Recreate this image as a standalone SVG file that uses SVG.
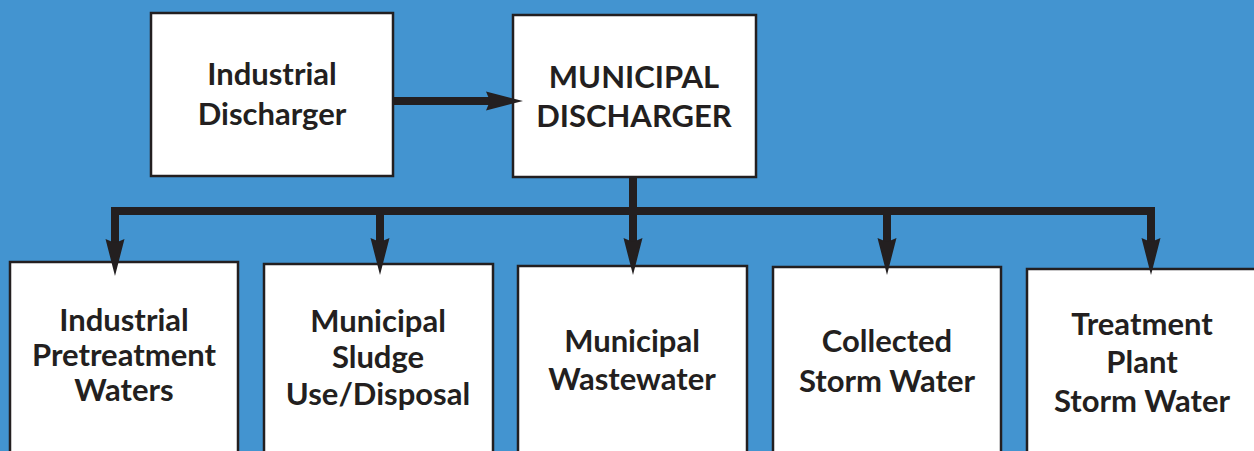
<svg xmlns="http://www.w3.org/2000/svg" width="1254" height="451" viewBox="0 0 1254 451">
<style>
.box{fill:#ffffff;stroke:#231f20;stroke-width:2.5}
.lbl{font-family:Lato,"Open Sans",sans-serif;font-weight:bold;font-size:31px;fill:#231f20;text-anchor:middle}
.con{fill:none;stroke:#231f20;stroke-width:8;stroke-linejoin:miter}
</style>
<defs>
<marker id="ah" markerUnits="userSpaceOnUse" markerWidth="38" markerHeight="22" viewBox="0 0 38 22" refX="12" refY="11" orient="auto">
<path d="M0,1.5 L37,11 L0,20.5 L4,11 Z" fill="#231f20"/>
</marker>
</defs>
<rect width="1254" height="451" fill="#4394d0"/>
<g id="industrial-discharger">
<rect class="box" x="151" y="13" width="242" height="163"/>
<text class="lbl" x="272" y="85">Industrial</text>
<text class="lbl" x="272" y="125">Discharger</text>
</g>
<g id="municipal-discharger">
<rect class="box" x="513" y="15" width="243" height="162"/>
<text class="lbl" x="634" y="88">MUNICIPAL</text>
<text class="lbl" x="634" y="127">DISCHARGER</text>
</g>
<g id="industrial-pretreatment-waters">
<rect class="box" x="10" y="262" width="228" height="200"/>
<text class="lbl" x="124" y="331">Industrial</text>
<text class="lbl" x="124" y="366">Pretreatment</text>
<text class="lbl" x="124" y="401">Waters</text>
</g>
<g id="municipal-sludge">
<rect class="box" x="264" y="264" width="229" height="200"/>
<text class="lbl" x="378" y="332">Municipal</text>
<text class="lbl" x="378" y="368">Sludge</text>
<text class="lbl" x="378" y="405">Use/Disposal</text>
</g>
<g id="municipal-wastewater">
<rect class="box" x="518" y="266" width="229" height="200"/>
<text class="lbl" x="632" y="352">Municipal</text>
<text class="lbl" x="632" y="390">Wastewater</text>
</g>
<g id="collected-storm-water">
<rect class="box" x="773" y="267" width="228" height="200"/>
<text class="lbl" x="887" y="352">Collected</text>
<text class="lbl" x="887" y="392">Storm Water</text>
</g>
<g id="treatment-plant-storm-water">
<rect class="box" x="1027" y="269" width="240" height="200"/>
<text class="lbl" x="1142" y="335">Treatment</text>
<text class="lbl" x="1142" y="373">Plant</text>
<text class="lbl" x="1142" y="412">Storm Water</text>
</g>
<g id="connectors">
<path class="con" d="M394,101 H498" marker-end="url(#ah)"/>
<path class="con" d="M633,178 V211"/>
<path class="con" d="M111,211 H1155"/>
<path class="con" d="M115,207 V251" marker-end="url(#ah)"/>
<path class="con" d="M380,207 V250" marker-end="url(#ah)"/>
<path class="con" d="M633,207 V250" marker-end="url(#ah)"/>
<path class="con" d="M887,207 V250" marker-end="url(#ah)"/>
<path class="con" d="M1151,207 V250" marker-end="url(#ah)"/>
</g>
</svg>
